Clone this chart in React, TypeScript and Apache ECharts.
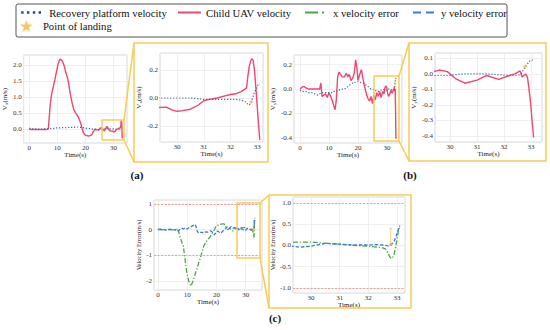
import React, { useEffect, useRef } from 'react';
import * as echarts from 'echarts';

const SERIF = 'Liberation Serif';

// ---- Panel (a): x velocity ----
const tA = [0, 1, 2, 3, 4, 5, 6, 6.8, 7.4, 7.9, 8.5, 9.1, 9.7, 10.2, 10.6, 11.0, 11.5, 11.9, 12.5, 13.1, 13.6, 14.0, 14.4, 14.8, 15.3, 15.9, 16.5, 17.0, 17.5, 17.9, 18.4, 18.8, 19.2, 19.7, 20.3, 21.0, 21.6, 22.2, 22.8, 23.5, 24.1, 24.7, 25.2, 25.6, 26.2, 26.7, 27.2, 27.6, 28.1, 28.6, 29.1, 29.6, 29.8, 30.0, 30.2, 30.5, 30.8, 31.0, 31.2, 31.5, 31.8, 32.0, 32.2, 32.4, 32.6, 32.65, 32.7, 32.75, 32.8, 32.85, 32.9, 32.95, 33.0, 33.05, 33.1];
const childVx = [-0.01, -0.02, -0.02, -0.02, -0.02, -0.02, -0.02, 0.0, 0.7, 1.06, 1.3, 1.53, 1.8, 2.0, 2.12, 2.18, 2.15, 2.1, 1.95, 1.74, 1.6, 1.43, 1.2, 1.01, 0.8, 0.59, 0.5, 0.44, 0.36, 0.28, 0.15, 0.02, -0.1, -0.18, -0.2, -0.22, -0.21, -0.19, -0.08, 0.0, -0.03, -0.04, 0.02, 0.04, -0.02, -0.06, 0.0, 0.08, 0.02, -0.05, -0.07, -0.065, -0.085, -0.095, -0.09, -0.08, -0.05, -0.02, -0.01, 0.0, 0.015, 0.025, 0.03, 0.045, 0.07, 0.15, 0.22, 0.26, 0.28, 0.27, 0.2, 0.08, -0.05, -0.18, -0.3];
const platformVx = [0.02, 0.01, 0.0, 0.0, -0.01, 0.0, 0.01, 0.01, 0.01, 0.02, 0.02, 0.02, 0.03, 0.03, 0.03, 0.03, 0.04, 0.04, 0.04, 0.04, 0.05, 0.05, 0.05, 0.05, 0.05, 0.05, 0.06, 0.06, 0.06, 0.05, 0.05, 0.04, 0.04, 0.03, 0.02, 0.02, 0.01, 0.0, -0.01, -0.02, -0.02, -0.02, -0.01, 0.0, 0.0, 0.0, 0.01, 0.01, 0.0, 0.0, 0.0, 0.0, 0.0, 0.0, 0.0, 0.0, -0.005, -0.01, -0.01, -0.01, -0.01, -0.01, -0.01, -0.015, -0.03, -0.045, -0.05, -0.04, -0.02, 0.01, 0.04, 0.06, 0.08, 0.1, 0.1];

// ---- Panel (b): y velocity ----
const tB = [0, 0.5, 1, 1.5, 2, 3, 4, 5, 6, 6.8, 7.2, 7.6, 8.2, 8.8, 9.4, 10.0, 10.6, 11.2, 11.7, 12.1, 12.5, 13.0, 13.5, 14.0, 14.6, 15.3, 16.0, 16.5, 17.0, 17.6, 18.2, 18.7, 19.2, 19.6, 20.0, 20.6, 21.2, 21.7, 22.3, 22.9, 23.5, 24.0, 24.5, 25.0, 25.5, 26.0, 26.5, 27.0, 27.5, 28.0, 28.5, 29.0, 29.3, 29.6, 29.9, 30.2, 30.55, 31.0, 31.36, 31.8, 32.2, 32.4, 32.6, 32.67, 32.73, 32.8, 32.87, 32.93, 33.0, 33.05, 33.1];
const childVy = [0.0, 0.01, 0.02, 0.02, 0.01, 0.0, 0.0, 0.0, 0.0, 0.0, 0.05, -0.06, -0.05, -0.04, -0.07, -0.03, -0.06, -0.1, -0.14, -0.17, -0.1, 0.1, 0.14, 0.12, 0.1, 0.1, 0.13, 0.1, 0.12, 0.07, 0.09, 0.13, 0.24, 0.18, 0.07, 0.12, 0.16, 0.09, 0.02, -0.04, -0.08, -0.1, -0.06, -0.12, -0.05, -0.09, -0.03, -0.06, -0.02, -0.07, -0.02, -0.04, 0.01, 0.025, 0.015, -0.03, -0.06, -0.04, -0.01, -0.035, -0.01, 0.0, 0.02, -0.02, -0.01, 0.0, -0.02, -0.1, -0.21, -0.32, -0.41];
const platformVy = [-0.01, -0.02, -0.02, -0.02, -0.02, -0.03, -0.03, -0.04, -0.05, -0.04, -0.03, -0.03, -0.03, -0.03, -0.03, -0.03, -0.03, -0.03, -0.02, -0.02, -0.02, -0.01, -0.01, 0.0, 0.0, 0.0, 0.01, 0.02, 0.03, 0.04, 0.05, 0.05, 0.06, 0.06, 0.06, 0.06, 0.05, 0.05, 0.04, 0.03, 0.02, 0.01, 0.0, 0.0, -0.01, -0.01, -0.02, -0.02, -0.01, -0.01, 0.0, -0.01, -0.01, -0.01, -0.01, -0.005, 0.0, 0.0, 0.0, -0.005, -0.01, -0.01, -0.005, 0.01, 0.03, 0.05, 0.065, 0.08, 0.09, 0.09, 0.08];

// ---- Panel (c): velocity errors ----
const tC = [0, 1, 2, 3, 4, 5, 6, 6.5, 7.0, 7.6, 8.2, 8.7, 9.3, 9.9, 10.5, 11.0, 11.3, 11.8, 12.3, 12.8, 13.4, 13.9, 14.5, 15.1, 15.7, 16.3, 17.0, 18.0, 18.5, 19.3, 19.8, 20.4, 21.0, 21.6, 22.1, 22.6, 23.2, 23.8, 24.4, 25.0, 25.6, 26.2, 26.8, 27.4, 28.0, 28.6, 29.1, 29.6, 30.0, 30.5, 31.0, 31.5, 32.0, 32.3, 32.5, 32.6, 32.7, 32.75, 32.8, 32.85, 32.9, 32.95, 33.0, 33.05, 33.1];
const errX = [0.02, 0.0, 0.01, 0.0, 0.01, 0.0, 0.0, 0.02, -0.05, -0.3, -0.5, -0.65, -1.2, -1.7, -2.0, -2.14, -2.2, -2.05, -1.9, -1.7, -1.5, -1.3, -1.1, -0.85, -0.62, -0.5, -0.4, -0.25, -0.15, 0.0, 0.13, 0.17, 0.2, 0.22, 0.23, 0.23, 0.12, 0.0, 0.05, 0.02, -0.05, 0.02, 0.08, -0.05, 0.05, 0.08, 0.07, 0.08, 0.08, 0.05, 0.03, 0.0, -0.02, -0.04, -0.06, -0.08, -0.2, -0.27, -0.31, -0.28, -0.2, -0.05, 0.15, 0.33, 0.45];
const errY = [0.0, 0.02, 0.0, -0.03, 0.02, -0.02, 0.0, 0.03, -0.05, 0.02, 0.05, 0.03, 0.08, 0.03, 0.07, 0.1, 0.12, 0.15, 0.18, 0.2, -0.05, -0.13, -0.1, -0.1, -0.13, -0.08, -0.09, -0.04, -0.08, -0.2, -0.12, -0.05, -0.1, -0.13, -0.06, 0.0, 0.06, 0.11, 0.05, 0.12, 0.05, 0.09, 0.02, 0.06, -0.02, 0.04, 0.0, -0.04, -0.02, 0.05, 0.03, 0.01, 0.01, 0.02, 0.01, 0.0, -0.01, 0.0, 0.02, 0.05, 0.1, 0.18, 0.28, 0.38, 0.47];
const errLimits = [1, -1];

// ---- Landing point ----
const landingT = 32.78;
const landingVx = -0.026;
const landingVy = 0.047;
const landingErr = 0.03;
const landingErrTop = 0.4;

const COLORS = {
  platform: '#3b6b9e',
  platformLegend: '#1f4a80',
  child: '#f0466f',
  ex: '#4aa84a',
  ey: '#3b7dd8',
  star: '#f6b73c',
  yellow: '#f7cb55',
};
const STAR = 'path://M50,0 L61.8,35.1 L98.9,35.1 L69.1,56.8 L80.9,91.9 L50,70.2 L19.1,91.9 L30.9,56.8 L1.1,35.1 L38.2,35.1 Z';

const zip = (t: number[], v: number[]) => t.map((x, i) => [x, v[i]]);

const fmt = (d: number) => (v: number) => (Math.abs(v) < 1e-9 ? 0 : v).toFixed(d);

function xAxisCfg(gi: number, min: number, max: number, step: number) {
  return {
    type: 'value', gridIndex: gi, min, max, minInterval: step, maxInterval: step,
    name: 'Time(s)', nameLocation: 'middle', nameGap: 8,
    nameTextStyle: { fontFamily: SERIF, fontSize: 7, color: '#222' },
    axisLine: { show: false }, axisTick: { show: false },
    axisLabel: { margin: 1, fontFamily: SERIF, fontSize: 7, color: '#333', showMinLabel: false, showMaxLabel: false, formatter: fmt(0) },
    splitLine: { show: true, lineStyle: { color: '#ebebeb', width: 0.8 } },
  };
}

function yAxisCfg(gi: number, min: number, max: number, step: number, dec: number, name: string, gap: number, rich: boolean) {
  return {
    type: 'value', gridIndex: gi, min, max, minInterval: step, maxInterval: step,
    name, nameLocation: 'middle', nameGap: gap, nameRotate: 90,
    nameTextStyle: rich ? {
      fontFamily: SERIF, fontSize: 7, color: '#222',
      rich: {
        v: { fontFamily: SERIF, fontSize: 7, color: '#222', lineHeight: 9 },
        s: { fontFamily: SERIF, fontSize: 5, color: '#222', lineHeight: 5, verticalAlign: 'bottom' },
      },
    } : { fontFamily: SERIF, fontSize: 6.5, color: '#222' },
    axisLine: { show: false }, axisTick: { show: false },
    axisLabel: { margin: 2, fontFamily: SERIF, fontSize: 7, color: '#333', showMinLabel: false, showMaxLabel: false, formatter: fmt(dec) },
    splitLine: { show: true, lineStyle: { color: '#ebebeb', width: 0.8 } },
  };
}

const gridBase = { show: true, borderColor: '#cfcfcf', borderWidth: 0.8, backgroundColor: '#ffffff', containLabel: false };

function lineSeries(name: string, gi: number, data: number[][], color: string, width: number, type: any, z = 2) {
  return {
    type: 'line', name, xAxisIndex: gi, yAxisIndex: gi, data, symbol: 'none', showSymbol: false,
    clip: true, z,
    lineStyle: { color, width, type },
    itemStyle: { color },
    emphasis: { disabled: true },
  };
}

function starSeries(gi: number, x: number, y: number, size: number) {
  return {
    type: 'scatter', name: 'Point of landing', xAxisIndex: gi, yAxisIndex: gi,
    data: [[x, y]], symbol: STAR, symbolSize: size, z: 5,
    itemStyle: { color: COLORS.star }, emphasis: { disabled: true },
  };
}

export default function App() {
  const ref = useRef<HTMLDivElement>(null);
  useEffect(() => {
    if (!ref.current) return;
    const chart = echarts.init(ref.current, undefined, { renderer: 'svg' });

    const series: any[] = [];
    // (a)
    [0, 1].forEach((gi) => {
      series.push(lineSeries('Recovery platform velocity', gi, zip(tA, platformVx), COLORS.platform, 1.2, [1.2, 1.8], 3));
      series.push(lineSeries('Child UAV velocity', gi, zip(tA, childVx), COLORS.child, 1.4, 'solid', 2));
      series.push(starSeries(gi, landingT, landingVx, gi === 0 ? 4 : 5));
    });
    // (b)
    [2, 3].forEach((gi) => {
      series.push(lineSeries('Recovery platform velocity', gi, zip(tB, platformVy), COLORS.platform, 1.2, [1.2, 1.8], 3));
      series.push(lineSeries('Child UAV velocity', gi, zip(tB, childVy), COLORS.child, 1.4, 'solid', 2));
      series.push(starSeries(gi, landingT, landingVy, gi === 2 ? 4 : 5));
    });
    // (c)
    [4, 5].forEach((gi) => {
      const ex: any = lineSeries('x velocity error', gi, zip(tC, errX), COLORS.ex, 1.3, [5, 1.8, 1.3, 1.8], 3);
      ex.markLine = {
        silent: true, symbol: ['none', 'none'], label: { show: false },
        lineStyle: { color: '#f39c9c', width: 1, type: [2, 1.5] },
        data: errLimits.map((v) => ({ yAxis: v })),
      };
      series.push(ex);
      series.push(lineSeries('y velocity error', gi, zip(tC, errY), COLORS.ey, 1.3, [3.5, 1.8], 3));
      series.push({
        type: 'line', name: 'landing-bar', xAxisIndex: gi, yAxisIndex: gi, symbol: 'none', z: 1,
        data: [[landingT - 0.05, landingErrTop], [landingT + 0.05, landingErrTop], [landingT, landingErrTop], [landingT, landingErr]],
        lineStyle: { color: '#f9d9a4', width: 1.5 }, emphasis: { disabled: true },
      });
      series.push(starSeries(gi, landingT, landingErr, gi === 4 ? 4 : 5));
    });

    const legendBase = {
      orient: 'horizontal', padding: 0, itemWidth: 23, itemHeight: 10, selectedMode: false,
      textStyle: { fontFamily: SERIF, fontSize: 10.7, color: '#111' },
      itemStyle: { opacity: 0 },
    };

    const yel = { stroke: COLORS.yellow, lineWidth: 1.5, fill: 'none' };
    const rectG = (x1: number, y1: number, x2: number, y2: number) => ({
      type: 'rect', shape: { x: x1, y: y1, width: x2 - x1, height: y2 - y1 }, style: yel, z: 10, silent: true,
    });
    const lineG = (x1: number, y1: number, x2: number, y2: number) => ({
      type: 'line', shape: { x1, y1, x2, y2 }, style: { stroke: COLORS.yellow, lineWidth: 1.5 }, z: 10, silent: true,
    });
    const labelG = (x: number, y: number, text: string) => ({
      type: 'text', x, y, style: { text, fontFamily: SERIF, fontSize: 11, fontWeight: 'bold', fill: '#111', align: 'center', verticalAlign: 'middle' }, z: 10,
    });

    chart.setOption({
      animation: false,
      backgroundColor: '#ffffff',
      textStyle: { fontFamily: SERIF },
      grid: [
        { ...gridBase, left: 19, top: 55, width: 108, height: 88 },
        { ...gridBase, left: 160, top: 53, width: 103, height: 89 },
        { ...gridBase, left: 294, top: 55, width: 108, height: 88 },
        { ...gridBase, left: 435, top: 53, width: 107, height: 89 },
        { ...gridBase, left: 154, top: 200, width: 108, height: 90 },
        { ...gridBase, left: 293, top: 197, width: 112, height: 96 },
      ],
      xAxis: [
        xAxisCfg(0, -2.0, 34.8, 10),
        xAxisCfg(1, 29.36, 33.22, 1),
        xAxisCfg(2, -2.07, 35.2, 10),
        xAxisCfg(3, 29.44, 33.41, 1),
        xAxisCfg(4, -1.37, 35.6, 10),
        xAxisCfg(5, 29.37, 33.28, 1),
      ],
      yAxis: [
        yAxisCfg(0, -0.44, 2.31, 0.5, 1, '{v|V}{s|x}{v|(m/s)}', 9, true),
        yAxisCfg(1, -0.314, 0.321, 0.2, 1, '{v|V}{s|x}{v|(m/s)}', 13, true),
        yAxisCfg(2, -0.444, 0.28, 0.2, 1, '{v|V}{s|y}{v|(m/s)}', 12, true),
        yAxisCfg(3, -0.439, 0.135, 0.1, 1, '{v|V}{s|y}{v|(m/s)}', 14, true),
        yAxisCfg(4, -2.35, 1.16, 1, 0, 'Velocity Error(m/s)', 8, false),
        yAxisCfg(5, -1.12, 1.14, 0.5, 1, 'Velocity Error(m/s)', 10, false),
      ],
      legend: [
        { ...legendBase, left: 20, top: 7, data: ['Recovery platform velocity'], lineStyle: { width: 2.4, color: COLORS.platformLegend, type: [2.4, 3.4] } },
        { ...legendBase, left: 177, top: 7, data: ['Child UAV velocity'], lineStyle: { width: 2 } },
        { ...legendBase, left: 304, top: 7, data: ['x velocity error'], lineStyle: { width: 2, type: [13, 4, 2, 4] } },
        { ...legendBase, left: 412, top: 7, data: ['y velocity error'], lineStyle: { width: 2, type: [8, 5] } },
        { ...legendBase, left: 20, top: 20, itemHeight: 12, itemStyle: {}, data: [{ name: 'Point of landing', icon: STAR }] },
      ],
      graphic: [
        { type: 'rect', shape: { x: 16, y: 4, width: 491, height: 33, r: 2 }, style: { stroke: '#555', lineWidth: 1, fill: 'none' }, z: 10, silent: true },
        rectG(102, 120, 124, 140), rectG(134, 43, 268, 162), lineG(124, 120, 134, 43), lineG(124, 140, 134, 162),
        rectG(374, 76, 399, 141), rectG(409, 43, 546, 161), lineG(399, 76, 409, 43), lineG(399, 141, 409, 161),
        rectG(237, 203, 260, 258), rectG(269, 195, 411, 308), lineG(260, 203, 269, 195), lineG(260, 258, 269, 308),
        labelG(137, 175, '(a)'), labelG(410, 175, '(b)'), labelG(275, 318, '(c)'),
      ],
      series,
    });
    return () => chart.dispose();
  }, []);
  return <div ref={ref} style={{ position: 'fixed', left: 0, top: 0, width: 550, height: 330 }} />;
}
